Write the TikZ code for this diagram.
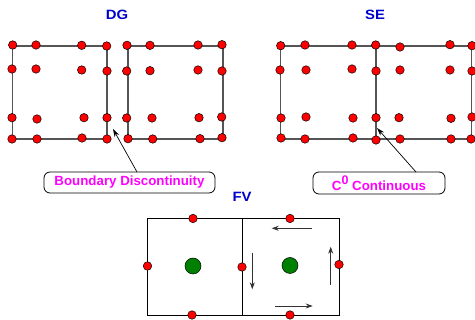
\documentclass[tikz,border=0pt]{standalone}
\usepackage{fontspec}
\setsansfont{Liberation Sans}
\usetikzlibrary{arrows.meta}
\definecolor{dotred}{HTML}{FF0000}
\definecolor{dotgreen}{HTML}{008000}
\definecolor{titleblue}{HTML}{0000CC}
\definecolor{labmag}{HTML}{FF00FF}
\definecolor{boxgray}{HTML}{555555}
\tikzset{
  dot/.style={circle,draw=black,line width=0.5pt,fill=dotred,minimum size=8.5pt,inner sep=0pt},
  bigdot/.style={circle,draw=black,line width=0.5pt,fill=dotgreen,minimum size=16pt,inner sep=0pt},
  elem/.style={draw=boxgray,line width=1.1pt},
  fvbox/.style={draw=black,line width=0.9pt},
  title/.style={font=\sffamily\bfseries\fontsize{13.5}{15}\selectfont,text=titleblue,xscale=1.1},
  labbox/.style={draw=black,line width=0.8pt,rounded corners=6pt,fill=white,font=\sffamily\bfseries\fontsize{13.3}{15}\selectfont,text=labmag,inner sep=0pt},
  pointer/.style={draw=black,line width=0.7pt,-{Stealth[length=8pt,width=5pt]}},
  flow/.style={draw=black!80,line width=0.9pt,-{Stealth[length=7pt,width=5pt]}}
}
\begin{document}
\begin{tikzpicture}[x=1pt,y=-1pt]
\useasboundingbox (0,0) rectangle (475,320);
% titles
\node[title] (tdg) at (117,14.5) {DG};
\node[title] (tse) at (375,15) {SE};
\node[title] (tfv) at (242,197) {FV};
% DG elements
\draw[elem] (12.5,46) rectangle (107,139);
\draw[elem] (128,46) rectangle (223,139);
% DG left dots
\foreach \x/\y [count=\i] in {12.7/45,36/45,81.7/45.3,106.7/46,
  12/69,36/69,81.7/70,107/71,
  12/117.7,37/119,84/117.7,107/117.7,
  12/139,37/139,82/138,107/139}
  \node[dot] (dgl\i) at (\x,\y) {};
% DG right dots
\foreach \x/\y [count=\i] in {127/45.3,150/45.3,198/45,222/44.7,
  126.7/71,150/70.7,198/70,222/71,
  126.7/118,152/118,199/117.7,221.7/117,
  128/138.7,152.7/139,200/138.7,222/137.7}
  \node[dot] (dgr\i) at (\x,\y) {};
% SE elements
\draw[elem] (280.7,46) rectangle (376,139);
\draw[elem] (376,46) rectangle (471.7,139);
\foreach \x/\y [count=\i] in {280.7/45.7,305/45,352/45,375.7/45,
  280/70,306/70,352/69,376/71,
  281/118,306/117,353/118,376/117.7,
  281/138,305/139,353/138,376/140,
  400/47,450/44.7,472/45.7,
  400/70,450/70,472/71,
  399/117.7,451/118.3,472/117,
  400/139,451/139,471/139}
  \node[dot] (se\i) at (\x,\y) {};
% label boxes
\node[labbox,minimum width=171pt,minimum height=21pt] (lbd) at (129.5,182.5) {Boundary Discontinuity};
\node[labbox,minimum width=132pt,minimum height=22pt] (lc0) at (379,183) {C\raisebox{6.5pt}{\fontsize{12.5}{13}\selectfont 0} Continuous};
\coordinate (pd) at (113,129);
\coordinate (pc) at (377,128);
\coordinate (sd) at (137,172);
\coordinate (sc) at (416,172);
\draw[pointer] (sd) -- (pd);
\draw[pointer] (sc) -- (pc);
% FV
\draw[fvbox] (147.7,218.5) rectangle (339.3,315);
\draw[fvbox] (242.7,218.5) -- (242.7,315);
\node[bigdot] (g1) at (193,266) {};
\node[bigdot] (g2) at (290,265.5) {};
\node[dot] (f1) at (193,218.5) {};
\node[dot] (f2) at (290,218.5) {};
\node[dot] (f3) at (192,315) {};
\node[dot] (f4) at (290,315) {};
\node[dot] (f5) at (147.5,266) {};
\node[dot] (f6) at (242,267) {};
\node[dot] (f7) at (339,264.5) {};
\coordinate (a1s) at (311.7,228.3);
\coordinate (a1e) at (271.7,228.3);
\coordinate (a2s) at (252.3,252.7);
\coordinate (a2e) at (252.3,289.3);
\coordinate (a3s) at (330.7,285);
\coordinate (a3e) at (330.7,246.7);
\coordinate (a4s) at (275,306);
\coordinate (a4e) at (312.7,306);
\draw[flow] (a1s) -- (a1e);
\draw[flow] (a2s) -- (a2e);
\draw[flow] (a3s) -- (a3e);
\draw[flow] (a4s) -- (a4e);
\end{tikzpicture}
\end{document}
